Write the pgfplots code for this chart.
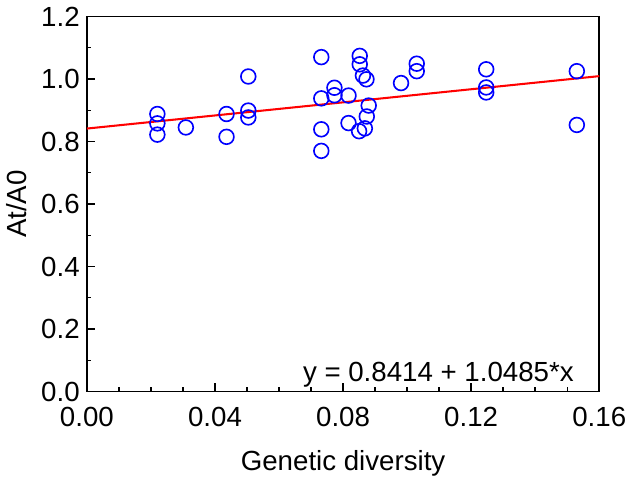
\documentclass[border=0pt]{standalone}
\usepackage{fontspec}
\setmainfont{Liberation Sans}
\usepackage{pgfplots}
\pgfplotsset{compat=1.18}

\begin{document}
\begin{tikzpicture}
\begin{axis}[
    scale only axis,
    width=250pt,
    height=183pt,
    xmin=0, xmax=0.16,
    ymin=0, ymax=1.2,
    xtick={0,0.04,0.08,0.12,0.16},
    ytick={0,0.2,0.4,0.6,0.8,1.0,1.2},
    xticklabels={0.00,0.04,0.08,0.12,0.16},
    yticklabels={0.0,0.2,0.4,0.6,0.8,1.0,1.2},
    minor x tick num=3,
    minor y tick num=1,
    tick pos=left,
    tick align=inside,
    major tick length=4pt,
    minor tick length=2pt,
    axis line style={line width=0.9pt},
    tick style={line width=0.7pt, black},
    /pgf/number format/assume math mode=true,
    tick label style={font=\fontsize{13.5}{15}\selectfont},
    xticklabel style={yshift=-4pt},
    label style={font=\fontsize{13.5}{15}\selectfont},
    xlabel={Genetic diversity},
    ylabel={At/A0},
    xlabel style={yshift=-5pt},
    ylabel style={yshift=0pt},
    clip=false,
]
\addplot[only marks, mark=o, mark size=3.6pt, blue, mark options={line width=0.8pt}] coordinates {
(0.0220,0.888) (0.0220,0.858) (0.0220,0.822) (0.0309,0.845)
(0.0436,0.888) (0.0436,0.815) (0.0504,1.008) (0.0504,0.899) (0.0504,0.877)
(0.0732,1.070) (0.0732,0.938) (0.0732,0.839) (0.0732,0.770)
(0.0773,0.972) (0.0773,0.948) (0.0817,0.947) (0.0817,0.859)
(0.0852,1.074) (0.0852,1.047) (0.0862,1.011) (0.0873,0.999)
(0.0880,0.915) (0.0874,0.880) (0.0868,0.842) (0.0850,0.833)
(0.0981,0.987) (0.1030,1.049) (0.1030,1.025)
(0.1247,1.031) (0.1247,0.973) (0.1247,0.957)
(0.1530,1.025) (0.1530,0.853)
};
\addplot[red, line width=1pt] coordinates {(0,0.8414) (0.16,1.00916)};
\node[anchor=south east, font=\fontsize{13.5}{15}\selectfont, inner sep=1pt] at (rel axis cs:0.955,0.005) {y = 0.8414 + 1.0485*x};
\end{axis}
\end{tikzpicture}
\end{document}
